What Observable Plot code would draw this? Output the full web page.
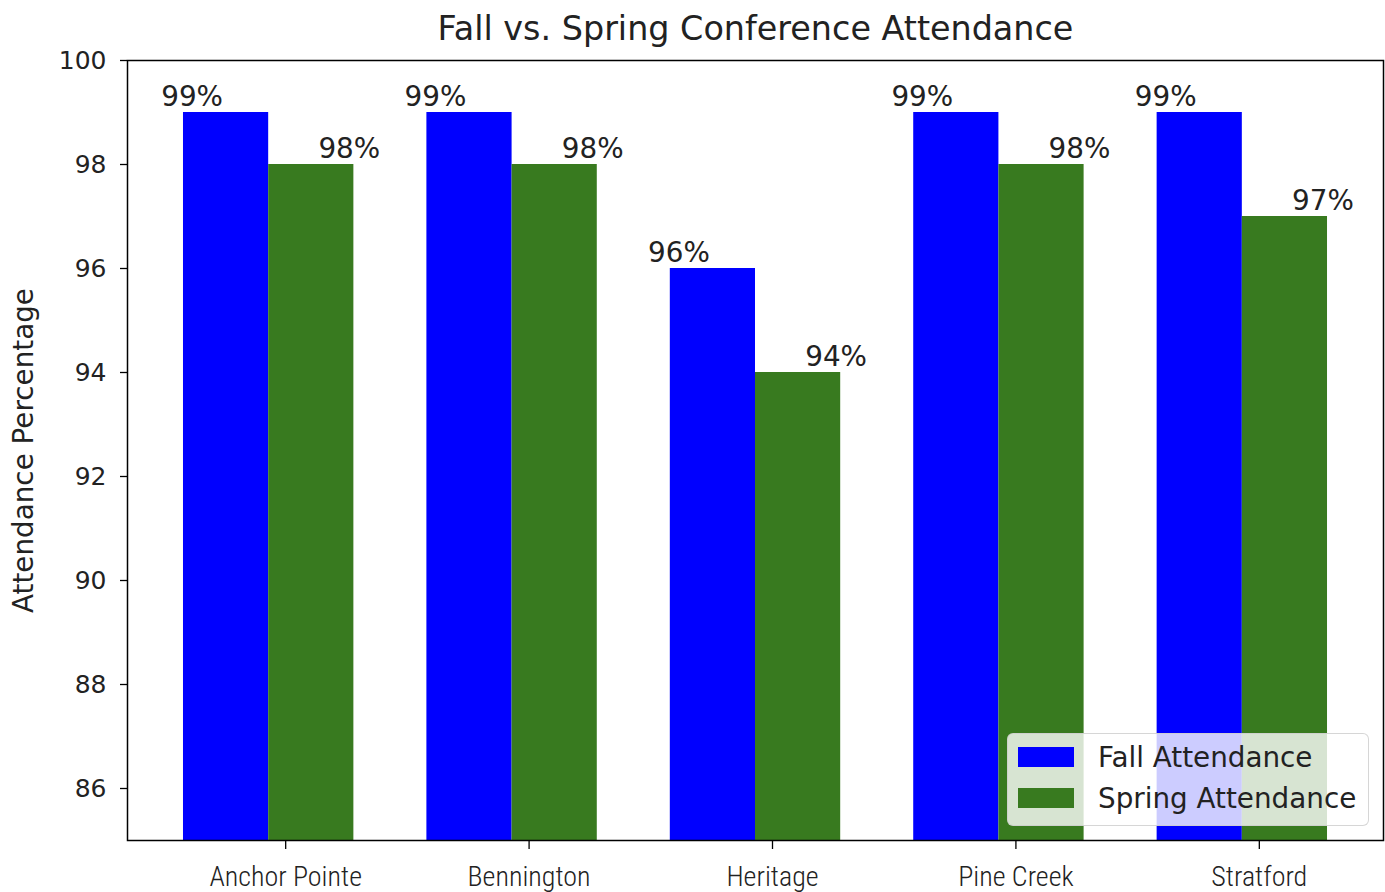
<!DOCTYPE html>
<html>
<head>
<meta charset="utf-8">
<script src="https://cdn.jsdelivr.net/npm/d3@7"></script>
<script src="https://cdn.jsdelivr.net/npm/@observablehq/plot@0.6"></script>
<style>
  html, body { margin: 0; padding: 0; background: #fff; }
  #wrap { position: relative; width: 1385px; height: 892px; overflow: hidden; }
  #legend {
    position: absolute; left: 1007px; top: 733px; width: 362px; height: 93px;
    box-sizing: border-box; background: rgba(255,255,255,0.8);
    border: 1.3px solid rgba(204,204,204,0.8); border-radius: 6px;
    font-family: "DejaVu Sans", sans-serif; font-size: 27.8px; color: #222;
  }
  .item { position: absolute; left: 10px; height: 30px; display: flex; align-items: center; }
  .sw { width: 56px; height: 20px; margin-right: 24px; }
  g[aria-label="x-axis tick label"] text { font-stretch: condensed; }
</style>
</head>
<body>
<div id="wrap"></div>
<script>
const categories = ["Anchor Pointe", "Bennington", "Heritage", "Pine Creek", "Stratford"];
const fallValues = [99, 99, 96, 99, 99];
const springValues = [98, 98, 94, 98, 97];
const seriesNames = ["Fall Attendance", "Spring Attendance"];
const seriesColors = ["#0000ff", "#387a1f"];
const yTicks = [86, 88, 90, 92, 94, 96, 98, 100];

const W = 0.35;
const rows = categories.flatMap((c, i) => [
  {cat: c, series: seriesNames[0], v: fallValues[i], x1: i - W, x2: i},
  {cat: c, series: seriesNames[1], v: springValues[i], x1: i, x2: i + W}
]);
const fallRows = rows.filter(d => d.series === seriesNames[0]);
const springRows = rows.filter(d => d.series === seriesNames[1]);

const chart = Plot.plot({
  width: 1385,
  height: 892,
  marginLeft: 127,
  marginRight: 2,
  marginTop: 60,
  marginBottom: 52,
  style: {fontFamily: "DejaVu Sans, sans-serif", fontSize: "27.8px", color: "#222", background: "#fff"},
  x: {domain: [-0.58, 4.58], axis: null},
  y: {domain: [85, 100], axis: null},
  color: {domain: seriesNames, range: seriesColors},
  marks: [
    Plot.rectY(rows, {x1: "x1", x2: "x2", y1: 0, y2: "v", fill: "series", clip: true}),
    Plot.text(fallRows, {x: d => (d.x1 + d.x2) / 2, y: "v", text: d => d.v + "%", dx: -34, dy: -7, lineAnchor: "bottom", fontSize: 27.8, fill: "#222"}),
    Plot.text(springRows, {x: d => (d.x1 + d.x2) / 2, y: "v", text: d => d.v + "%", dx: 38, dy: -7, lineAnchor: "bottom", fontSize: 27.8, fill: "#222"}),
    Plot.axisY({ticks: yTicks, tickSize: 7, tickPadding: 14, tickFormat: d => String(d), label: null,
      fontFamily: "DejaVu Sans, sans-serif", fontSize: 25, stroke: "#000", strokeWidth: 1.3}),
    Plot.axisX({ticks: [0, 1, 2, 3, 4], tickFormat: i => categories[i], tickSize: 9, tickPadding: 17, label: null, dx: 17,
      fontFamily: "Roboto Condensed, DejaVu Sans Condensed, sans-serif", fontWeight: 300, fontSize: 28, stroke: "#000", strokeWidth: 1.3}),
    Plot.frame({stroke: "#000", strokeWidth: 1.5}),
    Plot.text(["Fall vs. Spring Conference Attendance"], {frameAnchor: "top", lineAnchor: "middle", dy: -31, fontSize: 33.4, fill: "#222"}),
    Plot.text(["Attendance Percentage"], {frameAnchor: "left", textAnchor: "middle", lineAnchor: "middle", rotate: -90, dx: -103, fontSize: 27.8, fill: "#222"})
  ]
});
document.getElementById("wrap").appendChild(chart);

const legend = document.createElement("div");
legend.id = "legend";
seriesNames.forEach((name, k) => {
  const item = document.createElement("div");
  item.className = "item";
  item.style.top = (8 + k * 41) + "px";
  const sw = document.createElement("div");
  sw.className = "sw";
  sw.style.background = seriesColors[k];
  const t = document.createElement("span");
  t.textContent = name;
  item.appendChild(sw);
  item.appendChild(t);
  legend.appendChild(item);
});
document.getElementById("wrap").appendChild(legend);
</script>
</body>
</html>
